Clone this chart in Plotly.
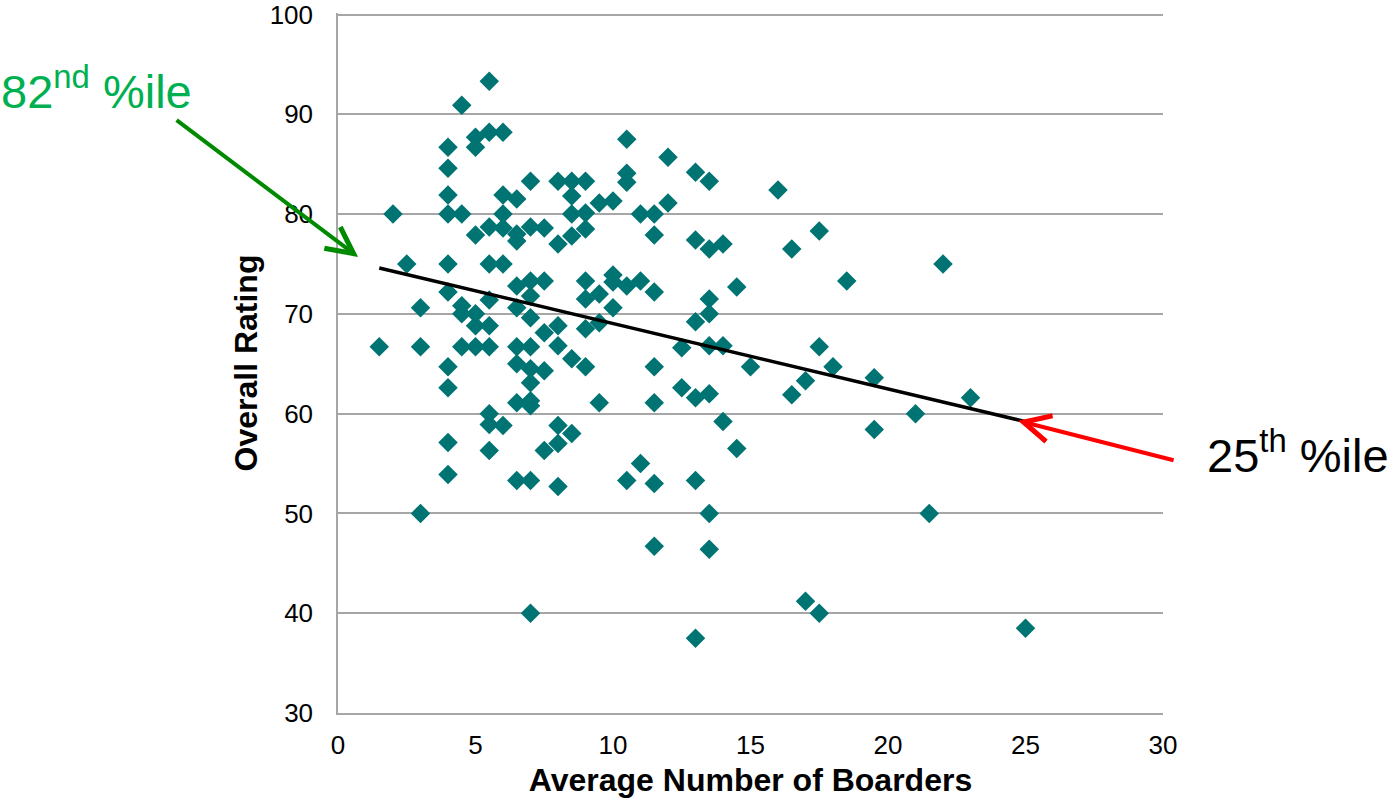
import plotly.graph_objects as go

# Average number of boarders vs. overall rating, one point per facility
boarders = [
    1.5, 2, 2.5, 3, 3, 3,
    4, 4, 4, 4, 4, 4, 4, 4, 4, 4,
    4.5, 4.5, 4.5, 4.5, 4.5,
    5, 5, 5, 5, 5, 5,
    5.5, 5.5, 5.5, 5.5, 5.5, 5.5, 5.5, 5.5, 5.5, 5.5,
    6, 6, 6, 6, 6, 6,
    6.5, 6.5, 6.5, 6.5, 6.5, 6.5, 6.5, 6.5, 6.5,
    7, 7, 7, 7, 7, 7, 7, 7, 7, 7, 7, 7,
    7.5, 7.5, 7.5, 7.5, 7.5,
    8, 8, 8, 8, 8, 8, 8,
    8.5, 8.5, 8.5, 8.5, 8.5, 8.5,
    9, 9, 9, 9, 9, 9, 9,
    9.5, 9.5, 9.5, 9.5,
    10, 10, 10, 10,
    10.5, 10.5, 10.5, 10.5, 10.5,
    11, 11, 11,
    11.5, 11.5, 11.5, 11.5, 11.5, 11.5, 11.5,
    12, 12, 12.5, 12.5,
    13, 13, 13, 13, 13, 13,
    13.5, 13.5, 13.5, 13.5, 13.5, 13.5, 13.5, 13.5,
    14, 14, 14, 14.5, 14.5, 15,
    16, 16.5, 16.5, 17, 17, 17.5, 17.5, 17.5, 18, 18.5,
    19.5, 19.5, 21, 21.5, 22, 23, 25,
]
ratings = [
    66.7, 80, 75, 70.6, 66.7, 50,
    86.7, 84.6, 81.9, 80, 75, 72.2, 64.7, 62.6, 57.1, 53.9,
    90.9, 80, 70.8, 70, 66.7,
    87.7, 86.7, 77.9, 70, 68.8, 66.7,
    93.3, 88.2, 78.7, 75, 71.4, 68.8, 66.7, 60, 58.9, 56.3,
    88.2, 81.9, 80, 78.6, 75, 58.8,
    81.5, 78, 77.3, 72.8, 70.6, 66.7, 65, 61.1, 53.3,
    83.3, 78.7, 73.3, 71.8, 69.6, 66.7, 64.5, 63.1, 61.3, 60.8, 53.3, 40,
    78.6, 73.3, 68.1, 64.3, 56.3,
    83.3, 77, 68.8, 66.8, 58.8, 57, 52.7,
    83.3, 81.8, 80, 77.8, 65.5, 58,
    83.3, 80.1, 78.5, 73.3, 71.5, 68.5, 64.7,
    81.1, 72, 69.1, 61.1,
    81.3, 73.9, 73.2, 70.6,
    87.5, 84.1, 83.2, 72.8, 53.3,
    80, 73.3, 55,
    80, 77.9, 72.2, 64.7, 61.1, 53, 46.7,
    85.7, 81.1, 66.6, 62.6,
    84.2, 77.4, 69.2, 61.6, 53.3, 37.5,
    83.3, 76.5, 71.5, 70, 66.8, 62, 50, 46.4,
    77, 66.8, 59.2, 72.7, 56.5, 64.7,
    82.4, 76.5, 61.9, 63.3, 41.2, 78.3, 66.7, 40, 64.7, 73.3,
    63.6, 58.4, 60, 50, 75, 61.6, 38.5,
]

# Linear trend line end points
trend_x = [1.5, 25]
trend_y = [74.6, 59.2]

# Percentile call-outs: arrow tip on the trend line
callout_text = ["82<sup>nd</sup> %ile", "25<sup>th</sup> %ile"]
callout_x = [0.73, 24.73]
callout_y = [75.7, 59.3]

x_ticks = [0, 5, 10, 15, 20, 25, 30]
y_ticks = [30, 40, 50, 60, 70, 80, 90, 100]

FONT = "Liberation Sans, Arial, sans-serif"
GRID = "#A6A6A6"

fig = go.Figure()
fig.add_trace(go.Scatter(
    x=boarders, y=ratings, mode="markers",
    marker=dict(symbol="diamond", size=15, color="#007373", line=dict(width=0)),
    hoverinfo="x+y", showlegend=False,
))
fig.add_trace(go.Scatter(
    x=trend_x, y=trend_y, mode="lines",
    line=dict(color="black", width=3.5), hoverinfo="skip", showlegend=False,
))

# Arrows
fig.add_annotation(
    x=callout_x[0], y=callout_y[0], xref="x", yref="y",
    ax=-183, ay=-138, axref="pixel", ayref="pixel",
    text="", showarrow=True, arrowhead=5, arrowsize=1.3, arrowwidth=4,
    arrowcolor="#008A00",
)
fig.add_annotation(
    x=callout_x[1], y=callout_y[1], xref="x", yref="y",
    ax=157, ay=40, axref="pixel", ayref="pixel",
    text="", showarrow=True, arrowhead=5, arrowsize=1.3, arrowwidth=4,
    arrowcolor="#FF0000",
)
# Labels
fig.add_annotation(
    x=-0.4115, y=0.893, xref="paper", yref="paper",
    xanchor="left", yanchor="middle", showarrow=False,
    text=callout_text[0], font=dict(family=FONT, size=47, color="#00B050"),
)
fig.add_annotation(
    x=1.0515, y=0.373, xref="paper", yref="paper",
    xanchor="left", yanchor="middle", showarrow=False,
    text=callout_text[1], font=dict(family=FONT, size=47, color="black"),
)

fig.update_layout(
    width=1391, height=801,
    margin=dict(l=338, r=228, t=13, b=88, autoexpand=False),
    paper_bgcolor="white", plot_bgcolor="white",
    font=dict(family=FONT, color="black"),
)
fig.update_xaxes(
    range=[0, 30], tickvals=x_ticks, showgrid=False, zeroline=False,
    showline=True, linecolor=GRID, linewidth=1.5,
    ticks="outside", ticklen=8, tickcolor="rgba(0,0,0,0)",
    ticklabeloverflow="allow",
    tickfont=dict(family=FONT, size=26, color="black"),
    title=dict(text="<b>Average Number of Boarders</b>", standoff=10,
               font=dict(family=FONT, size=32, color="black")),
)
fig.update_yaxes(
    range=[30, 100.15], tickvals=y_ticks, showgrid=True, gridcolor=GRID,
    gridwidth=1.5, zeroline=False,
    showline=True, linecolor=GRID, linewidth=1.5,
    ticks="outside", ticklen=18, tickcolor="rgba(0,0,0,0)",
    ticklabeloverflow="allow",
    tickfont=dict(family=FONT, size=26, color="black"),
    title=dict(text="<b>Overall Rating</b>", standoff=2,
               font=dict(family=FONT, size=32, color="black")),
)

fig.write_html("out.html")
